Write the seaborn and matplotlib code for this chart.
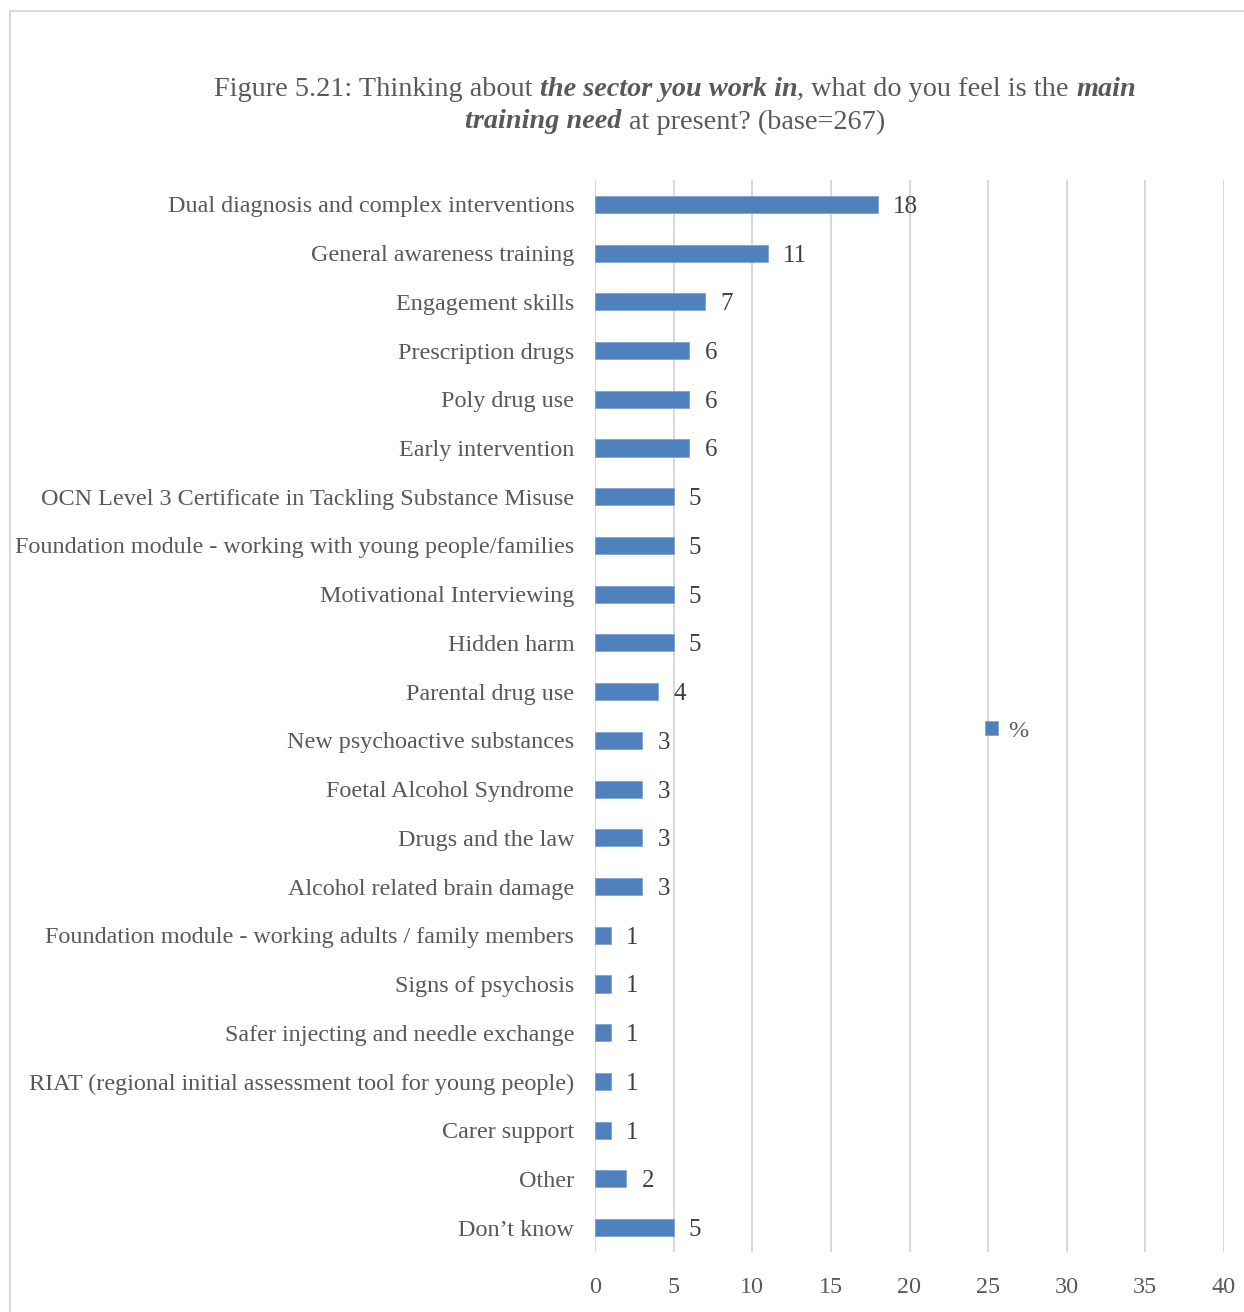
import matplotlib
matplotlib.use("Agg")
import matplotlib.pyplot as plt
import seaborn as sns
import pandas as pd
from matplotlib.patches import Rectangle

categories = [
    "Dual diagnosis and complex interventions",
    "General awareness training",
    "Engagement skills",
    "Prescription drugs",
    "Poly drug use",
    "Early intervention",
    "OCN Level 3 Certificate in Tackling Substance Misuse",
    "Foundation module - working with young people/families",
    "Motivational Interviewing",
    "Hidden harm",
    "Parental drug use",
    "New psychoactive substances",
    "Foetal Alcohol Syndrome",
    "Drugs and the law",
    "Alcohol related brain damage",
    "Foundation module - working adults / family members",
    "Signs of psychosis",
    "Safer injecting and needle exchange",
    "RIAT (regional initial assessment tool for young people)",
    "Carer support",
    "Other",
    "Don\u2019t know",
]
pct = [18, 11, 7, 6, 6, 6, 5, 5, 5, 5, 4, 3, 3, 3, 3, 1, 1, 1, 1, 1, 2, 5]
x_ticks = [0, 5, 10, 15, 20, 25, 30, 35, 40]

df = pd.DataFrame({"item": categories, "pct": pct})

sns.set_theme(style="white")
plt.rcParams["font.family"] = ["Liberation Serif", "DejaVu Serif"]

W, H = 1244, 1312
fig = plt.figure(figsize=(W / 100, H / 100), dpi=100)
ax = fig.add_axes([595 / W, 1 - 1252 / H, (1224 - 595) / W, (1252 - 180) / H])

grey = "#595959"
lsize = 17.4
sns.barplot(data=df, x="pct", y="item", orient="h", color="#4f81bd",
            saturation=1, width=0.35, edgecolor="#7fa3d1", linewidth=0.6,
            ax=ax, label="%", zorder=3)

ax.set_xlim(0, 40)
ax.set_xticks(x_ticks)
ax.grid(axis="x", color="#d9d9d9", linewidth=1.5, zorder=0)
ax.grid(axis="y", visible=False)
for s in ax.spines.values():
    s.set_visible(False)
ax.set_xlabel("")
ax.set_ylabel("")
ax.tick_params(axis="y", length=0, pad=15, labelsize=lsize, labelcolor=grey)
ax.tick_params(axis="x", length=0, pad=18, labelsize=lsize, labelcolor=grey)

labels = ax.bar_label(ax.containers[0], padding=11, fontsize=18,
                      color="#404040")
for t in labels:
    t.set_verticalalignment("center_baseline")

leg = ax.legend(loc="center left", bbox_to_anchor=(0.585, 0.486),
                frameon=False, fontsize=lsize, handlelength=0.55,
                handleheight=0.55, handletextpad=0.4, labelcolor=grey)

# outer chart border
fig.patches.append(Rectangle((10 / W, -0.05), 1.1, 1 - 11 / H + 0.05,
                             transform=fig.transFigure, fill=False,
                             edgecolor="#d9d9d9", linewidth=1.5))

# title with bold-italic runs
tsize = 20.3
fig.canvas.draw()
r = fig.canvas.get_renderer()


def measure(s, **kw):
    t = fig.text(0, 0, s, fontsize=tsize, **kw)
    w = t.get_window_extent(r).width
    t.remove()
    return w


gap = measure("x x") - measure("xx")
bi = dict(fontstyle="italic", fontweight="bold")


def title_line(parts, ypix, cx=675):
    texts = []
    for s, sp, bold in parts:
        kw = bi if bold else {}
        t = fig.text(0, 1 - ypix / H, s, fontsize=tsize, color=grey,
                     va="center", ha="left", **kw)
        texts.append((t, sp))
    fig.canvas.draw()
    widths = [t.get_window_extent(r).width for t, _ in texts]
    total = sum(widths) + sum(gap for _, sp in texts if sp)
    x = cx - total / 2
    for (t, sp), w in zip(texts, widths):
        if sp:
            x += gap
        t.set_x(x / W)
        x += w


title_line([("Figure 5.21: Thinking about", False, False),
            ("the sector you work in", True, True),
            (", what do you feel is the", False, False),
            ("main", True, True)], 90)
title_line([("training need", False, True),
            ("at present? (base=267)", True, False)], 122)

fig.savefig("out.png", dpi=100)
